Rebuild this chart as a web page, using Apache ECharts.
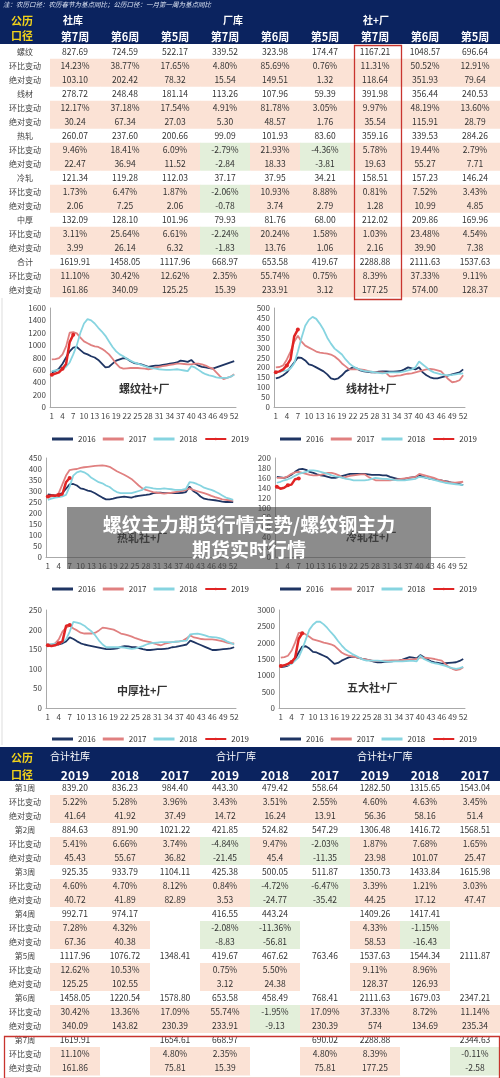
<!DOCTYPE html>
<html><head><meta charset="utf-8">
<script src="https://cdn.jsdelivr.net/npm/echarts@6/dist/echarts.min.js"></script>
<style>html,body{margin:0;padding:0;background:#fff}#c{width:500px;height:1078px}</style>
</head><body><div id="c"></div>
<script>
// ---------- top table ----------
const topLabels = ['螺纹','环比变动','绝对变动','线材','环比变动','绝对变动','热轧','环比变动','绝对变动','冷轧','环比变动','绝对变动','中厚','环比变动','绝对变动','合计','环比变动','绝对变动'];
const luowen = [['827.69','724.59','522.17','339.52','323.98','174.47','1167.21','1048.57','696.64'],['14.23%','38.77%','17.65%','4.80%','85.69%','0.76%','11.31%','50.52%','12.91%'],['103.10','202.42','78.32','15.54','149.51','1.32','118.64','351.93','79.64']];
const xiancai = [['278.72','248.48','181.14','113.26','107.96','59.39','391.98','356.44','240.53'],['12.17%','37.18%','17.54%','4.91%','81.78%','3.05%','9.97%','48.19%','13.60%'],['30.24','67.34','27.03','5.30','48.57','1.76','35.54','115.91','28.79']];
const rezha = [['260.07','237.60','200.66','99.09','101.93','83.60','359.16','339.53','284.26'],['9.46%','18.41%','6.09%','-2.79%','21.93%','-4.36%','5.78%','19.44%','2.79%'],['22.47','36.94','11.52','-2.84','18.33','-3.81','19.63','55.27','7.71']];
const lengzha = [['121.34','119.28','112.03','37.17','37.95','34.21','158.51','157.23','146.24'],['1.73%','6.47%','1.87%','-2.06%','10.93%','8.88%','0.81%','7.52%','3.43%'],['2.06','7.25','2.06','-0.78','3.74','2.79','1.28','10.99','4.85']];
const zhonghou = [['132.09','128.10','101.96','79.93','81.76','68.00','212.02','209.86','169.96'],['3.11%','25.64%','6.61%','-2.24%','20.24%','1.58%','1.03%','23.48%','4.54%'],['3.99','26.14','6.32','-1.83','13.76','1.06','2.16','39.90','7.38']];
const heji = [['1619.91','1458.05','1117.96','668.97','653.58','419.67','2288.88','2111.63','1537.63'],['11.10%','30.42%','12.62%','2.35%','55.74%','0.75%','8.39%','37.33%','9.11%'],['161.86','340.09','125.25','15.39','233.91','3.12','177.25','574.00','128.37']];
const topWeeks = ['第7周','第6周','第5周','第7周','第6周','第5周','第7周','第6周','第5周'];

// ---------- bottom table ----------
const botLabels = [];
const weekNames = ['第1周','第2周','第3周','第4周','第5周','第6周','第7周'];
weekNames.forEach(w=>botLabels.push(w,'环比变动','绝对变动'));
const years = ['2019','2018','2017','2019','2018','2017','2019','2018','2017'];
const wk1 = [['839.20','836.23','984.40','443.30','479.42','558.64','1282.50','1315.65','1543.04'],['5.22%','5.28%','3.96%','3.43%','3.51%','2.55%','4.60%','4.63%','3.45%'],['41.64','41.92','37.49','14.72','16.24','13.91','56.36','58.16','51.4']];
const wk2 = [['884.63','891.90','1021.22','421.85','524.82','547.29','1306.48','1416.72','1568.51'],['5.41%','6.66%','3.74%','-4.84%','9.47%','-2.03%','1.87%','7.68%','1.65%'],['45.43','55.67','36.82','-21.45','45.4','-11.35','23.98','101.07','25.47']];
const wk3 = [['925.35','933.79','1104.11','425.38','500.05','511.87','1350.73','1433.84','1615.98'],['4.60%','4.70%','8.12%','0.84%','-4.72%','-6.47%','3.39%','1.21%','3.03%'],['40.72','41.89','82.89','3.53','-24.77','-35.42','44.25','17.12','47.47']];
const wk4 = [['992.71','974.17','','416.55','443.24','','1409.26','1417.41',''],['7.28%','4.32%','','-2.08%','-11.36%','','4.33%','-1.15%',''],['67.36','40.38','','-8.83','-56.81','','58.53','-16.43','']];
const wk5 = [['1117.96','1076.72','1348.41','419.67','467.62','763.46','1537.63','1544.34','2111.87'],['12.62%','10.53%','','0.75%','5.50%','','9.11%','8.96%',''],['125.25','102.55','','3.12','24.38','','128.37','126.93','']];
const wk6 = [['1458.05','1220.54','1578.80','653.58','458.49','768.41','2111.63','1679.03','2347.21'],['30.42%','13.36%','17.09%','55.74%','-1.95%','17.09%','37.33%','8.72%','11.14%'],['340.09','143.82','230.39','233.91','-9.13','230.39','574','134.69','235.34']];
const wk7 = [['1619.91','','1654.61','668.97','','690.02','2288.88','','2344.63'],['11.10%','','4.80%','2.35%','','4.80%','8.39%','','-0.11%'],['161.86','','75.81','15.39','','75.81','177.25','','-2.58']];

// ---------- line charts ----------
const weeks = Array.from({length:52},(_,i)=>String(i+1));
const seriesNames = ['2016','2017','2018','2019'];
const lw16=[560,580,620,700,800,900,960,970,920,870,850,820,800,760,700,640,650,700,750,770,790,780,740,710,700,690,670,650,660,670,670,680,690,700,710,720,750,740,730,760,700,670,650,640,630,620,640,660,680,700,720,740];
const lw17=[770,775,790,850,980,1200,1210,1190,1120,1060,1030,1000,980,970,940,900,850,780,700,640,620,625,630,630,630,625,620,610,620,640,650,660,670,680,690,700,700,695,690,690,700,700,690,670,640,620,560,500,450,470,490,530];
const lw18=[580,590,600,610,650,720,850,1000,1200,1350,1420,1400,1350,1280,1220,1150,1060,970,900,850,820,780,750,720,700,680,660,640,630,620,610,605,600,600,605,610,600,590,580,660,640,600,560,530,510,500,480,470,470,470,490,520];
const lw19=[520,540,560,620,696.64,1048.57,1167.21];
const xc16=[145,150,160,175,200,225,250,248,235,215,210,200,190,180,165,145,140,145,160,180,190,200,195,185,180,178,175,175,178,180,180,178,178,180,182,190,200,195,190,200,175,160,150,145,145,150,155,160,165,170,175,190];
const xc17=[200,202,210,240,280,330,360,330,310,300,290,280,275,272,270,265,255,240,220,205,190,190,190,190,188,182,178,175,175,175,172,155,155,158,160,165,168,170,175,180,185,190,192,190,185,180,160,140,125,128,135,160];
const xc18=[175,178,182,185,195,220,280,350,410,440,455,445,420,390,350,320,295,280,265,240,220,205,195,188,182,180,178,175,172,170,172,175,175,175,176,180,185,190,200,230,215,200,185,175,170,165,162,160,162,165,168,170];
const xc19=[175,180,190,210,240.53,356.44,391.98];
const rz16=[285,282,280,285,290,310,330,332,325,312,308,302,298,290,280,270,262,262,265,270,272,274,272,270,275,278,280,282,285,290,292,292,290,290,290,290,290,292,295,320,300,290,275,265,262,260,258,255,252,250,250,250];
const rz17=[270,275,280,290,330,370,395,398,400,405,408,410,412,414,415,416,414,410,400,390,382,374,365,355,340,325,312,305,300,295,292,290,288,290,292,295,298,300,305,312,305,300,295,290,285,278,272,268,262,260,258,255];
const rz18=[260,265,270,272,276,282,320,370,385,390,385,375,360,350,340,335,325,318,305,295,290,290,290,290,295,300,305,318,315,312,310,310,312,310,308,305,305,306,310,340,338,332,325,315,310,305,298,290,280,270,265,260];
const rz19=[275,280,278,282,284.26,339.53,359.16];
const lz16=[162,161,160,162,166,172,177,178,176,172,170,167,165,164,162,160,160,162,164,166,168,168,168,168,168,167,166,166,166,165,165,162,160,158,158,158,160,161,162,165,162,160,158,157,156,155,153,152,150,149,147,145];
const lz17=[160,160,160,163,168,171,172,170,168,166,165,165,166,168,170,170,168,165,160,162,164,165,166,167,167,162,158,155,155,155,155,155,156,157,158,159,160,161,162,168,166,164,162,160,157,155,153,151,150,150,151,152];
const lz18=[150,152,155,157,160,164,168,170,172,175,175,174,172,170,168,165,163,162,160,158,157,155,155,155,155,156,158,160,159,158,158,157,156,155,155,155,156,157,158,162,161,160,158,156,154,152,150,149,148,147,146,145];
const lz19=[142,138,140,145,146.24,157.23,158.51];
const zh16=[160,161,162,162,165,170,180,176,170,165,162,160,158,156,154,152,150,150,151,152,156,158,157,155,155,153,150,148,148,149,150,150,151,152,155,156,158,160,162,172,168,164,160,156,152,148,148,149,150,151,152,155];
const zh17=[160,162,165,175,195,205,210,203,198,192,190,190,190,192,198,205,204,202,200,195,190,188,185,182,178,175,172,170,168,165,162,160,164,166,168,169,170,172,178,185,180,178,176,175,175,175,174,172,170,167,165,165];
const zh18=[162,163,164,165,168,175,195,220,218,215,210,202,195,185,172,162,155,155,155,155,155,154,152,151,152,155,158,162,165,166,167,168,168,168,168,169,170,171,172,188,189,190,188,185,182,181,180,178,175,170,166,162];
const zh19=[160,158,160,165,169.96,209.86,212.02];
const wd16=[1250,1270,1300,1380,1500,1700,1880,1890,1820,1720,1700,1650,1600,1550,1450,1350,1380,1450,1500,1550,1570,1560,1530,1500,1480,1460,1420,1400,1400,1410,1420,1430,1440,1450,1480,1520,1560,1540,1520,1620,1550,1480,1430,1400,1380,1360,1370,1380,1390,1400,1440,1500];
const wd17=[1540,1560,1600,1750,2000,2300,2310,2250,2180,2100,2070,2040,2000,1980,1950,1900,1800,1700,1640,1600,1580,1560,1530,1500,1480,1460,1440,1440,1440,1450,1450,1455,1460,1460,1470,1475,1480,1490,1500,1550,1540,1530,1520,1500,1470,1450,1350,1250,1200,1160,1180,1250];
const wd18=[1280,1300,1320,1350,1450,1550,1800,2100,2400,2550,2640,2640,2560,2450,2320,2200,2050,1920,1800,1720,1650,1600,1540,1480,1450,1450,1450,1450,1440,1430,1420,1420,1425,1430,1430,1435,1440,1440,1430,1600,1500,1450,1400,1370,1350,1320,1290,1250,1220,1200,1220,1260];
const wd19=[1282.5,1306.48,1350.73,1409.26,1537.63,2111.63,2288.88];

const charts = [
 {title:'螺纹社+厂', data:[lw16,lw17,lw18,lw19], max:1600, step:200, grid:{left:50,width:186,top:308,height:99}, tx:145, ty:391, legX:47, legY:430},
 {title:'线材社+厂', data:[xc16,xc17,xc18,xc19], max:500, step:50, grid:{left:274,width:191,top:308,height:99}, tx:372, ty:391, legX:275, legY:430},
 {title:'热轧社+厂', data:[rz16,rz17,rz18,rz19], max:450, step:50, grid:{left:46,width:189,top:458,height:99}, tx:143, ty:540, legX:47, legY:580},
 {title:'冷轧社+厂', data:[lz16,lz17,lz18,lz19], max:200, step:20, grid:{left:275,width:190,top:458,height:99}, tx:372, ty:539, legX:275, legY:580},
 {title:'中厚社+厂', data:[zh16,zh17,zh18,zh19], max:250, step:50, grid:{left:46,width:190,top:610,height:98}, tx:143, ty:693, legX:47, legY:730},
 {title:'五大社+厂', data:[wd16,wd17,wd18,wd19], max:3000, step:500, grid:{left:279,width:186,top:610,height:98}, tx:373, ty:690, legX:275, legY:730}
];
const colors = ['#1f3563','#e08080','#86d4e0','#e02424'];
const FONT = 'Noto Sans CJK SC';

// ---------- build ----------
function isNeg(s){return s.trim().startsWith('-');}
function tableCells(labels, groups){
  const cells=[];
  labels.forEach((l,r)=>cells.push({c:0,r,t:l,k:0,lab:true}));
  groups.forEach((g,gi)=>{
    g.forEach((row,ri)=>{
      const r=gi*3+ri;
      row.forEach((t,ci)=>{
        let k=0;
        if(ri>0 && t!=='') k=isNeg(t)?2:1;
        cells.push({c:ci+1,r,t,k});
      });
    });
  });
  return cells;
}
const topCells = tableCells(topLabels,[luowen,xiancai,rezha,lengzha,zhonghou,heji]);
const botCells = tableCells(botLabels,[wk1,wk2,wk3,wk4,wk5,wk6,wk7]);
const bg = ['#ffffff','#fbe2d5','#e3efda'];

function cellRender(cells){
  return function(params, api){
    const cell=cells[params.dataIndex];
    const p=api.coord([api.value(0),api.value(1)]);
    const s=api.size([1,1]);
    return {type:'group',children:[
      {type:'rect',shape:{x:p[0]-s[0]/2,y:p[1]-s[1]/2,width:s[0]+0.5,height:s[1]+0.5},style:{fill:bg[cell.k]}},
      {type:'text',x:p[0],y:p[1],style:{text:cell.t,fill:cell.lab?'#444':'#333',font:(cell.lab?'8px ':'8.5px ')+FONT,align:'center',verticalAlign:'middle'}}
    ]};
  };
}

const grids=[], xAxes=[], yAxes=[], series=[], legends=[], graphics=[];
const colIdx = Array.from({length:10},(_,i)=>i);
function addTable(cells, rows, top, height){
  const gi=grids.length;
  grids.push({left:0,width:500,top,height});
  xAxes.push({type:'category',gridIndex:gi,data:colIdx,show:false});
  yAxes.push({type:'category',gridIndex:gi,data:rows.map((_,i)=>i),inverse:true,show:false});
  series.push({type:'custom',xAxisIndex:gi,yAxisIndex:gi,data:cells.map(c=>[c.c,c.r]),renderItem:cellRender(cells),silent:true,animation:false});
}
addTable(topCells, topLabels, 44.7, 252);
addTable(botCells, botLabels, 781, 294);

const legendData = seriesNames.map((n,i)=>i<3?{name:n,icon:'rect',itemStyle:{color:colors[i]}}:{name:n});
charts.forEach(ch=>{
  const gi=grids.length;
  grids.push(ch.grid);
  xAxes.push({type:'category',gridIndex:gi,data:weeks,boundaryGap:true,
    axisLine:{lineStyle:{color:'#aaa'}},axisTick:{interval:0,length:2,lineStyle:{color:'#aaa'}},
    axisLabel:{interval:2,fontSize:8,color:'#444',margin:5,fontFamily:FONT}});
  yAxes.push({type:'value',gridIndex:gi,min:0,max:ch.max,interval:ch.step,
    axisLine:{show:true,lineStyle:{color:'#aaa'}},axisTick:{show:false},splitLine:{show:false},
    axisLabel:{fontSize:8,color:'#444',margin:4,fontFamily:FONT,formatter:v=>String(v)}});
  ch.data.forEach((d,si)=>{
    const is19=si===3;
    series.push({type:'line',name:seriesNames[si],xAxisIndex:gi,yAxisIndex:gi,data:d,
      color:colors[si],showSymbol:is19,symbol:is19?'circle':'none',symbolSize:4,
      lineStyle:{width:is19?2.5:1.8,color:colors[si]},z:is19?5:2+(si===2?1:0),animation:false,silent:true});
  });
  legends.push({left:ch.legX,top:ch.legY,width:300,orient:'horizontal',data:legendData,itemWidth:21,itemHeight:3,itemGap:7,selectedMode:false,
    textStyle:{fontSize:8,color:'#333',fontFamily:FONT}});
  graphics.push({type:'text',left:ch.tx-26,top:ch.ty-8,style:{text:ch.title,font:'bold 11px '+FONT,fill:'#333'}});
});

// headers
const navy='#0b235f', yellow='#f2d21a';
graphics.push({type:'rect',left:0,top:0,shape:{width:500,height:44},style:{fill:navy},z:-1});
graphics.push({type:'text',left:3,top:1,style:{text:'注：农历口径：农历春节为基点同比；公历口径：一月第一周为基点同比',font:'italic 6.5px '+FONT,fill:'#dfe6f5'}});
graphics.push({type:'text',left:11,top:15,style:{text:'公历',font:'bold 11px '+FONT,fill:yellow}});
graphics.push({type:'text',left:11,top:30,style:{text:'口径',font:'bold 11px '+FONT,fill:yellow}});
[['社库',63],['厂库',223],['社+厂',363]].forEach(a=>graphics.push({type:'text',left:a[1],top:15,style:{text:a[0],font:'bold 10px '+FONT,fill:'#fff'}}));
topWeeks.forEach((w,i)=>graphics.push({type:'text',x:75+i*50,y:37,style:{text:w,font:'bold 11px '+FONT,fill:'#fff',align:'center',verticalAlign:'middle'}}));
graphics.push({type:'rect',left:352,top:43,shape:{width:47,height:254},style:{fill:'none',stroke:'#c8342e',lineWidth:1.3},z:20});
graphics.push({type:'line',shape:{x1:2,y1:298,x2:2,y2:745},style:{stroke:'#ddd',lineWidth:1}});
// bottom header
graphics.push({type:'rect',left:0,top:747,shape:{width:500,height:35},style:{fill:navy},z:-1});
graphics.push({type:'text',left:11,top:752,style:{text:'公历',font:'bold 11px '+FONT,fill:yellow}});
graphics.push({type:'text',left:11,top:769,style:{text:'口径',font:'bold 11px '+FONT,fill:yellow}});
[['合计社库',50],['合计厂库',216],['合计社+厂库',357]].forEach(a=>graphics.push({type:'text',left:a[1],top:751,style:{text:a[0],font:'10px '+FONT,fill:'#fff'}}));
years.forEach((y,i)=>graphics.push({type:'text',x:75+i*50,y:775,style:{text:y,font:'bold 12px '+FONT,fill:'#fff',align:'center',verticalAlign:'middle'}}));
graphics.push({type:'rect',left:2,top:1034,shape:{width:495,height:42},style:{fill:'none',stroke:'#c8342e',lineWidth:1.3},z:20});
// overlay
graphics.push({type:'rect',left:67,top:507,shape:{width:364,height:62},style:{fill:'rgba(70,70,70,0.62)'},z:50});
graphics.push({type:'text',x:249,y:525,style:{text:'螺纹主力期货行情走势/螺纹钢主力',font:'bold 19px '+FONT,fill:'#fff',align:'center',verticalAlign:'middle'},z:51});
graphics.push({type:'text',x:249,y:550,style:{text:'期货实时行情',font:'bold 19px '+FONT,fill:'#fff',align:'center',verticalAlign:'middle'},z:51});

const chart = echarts.init(document.getElementById('c'),null,{renderer:'canvas'});
chart.setOption({animation:false,backgroundColor:'#fff',grid:grids,xAxis:xAxes,yAxis:yAxes,series,legend:legends,graphic:graphics});
</script></body></html>
